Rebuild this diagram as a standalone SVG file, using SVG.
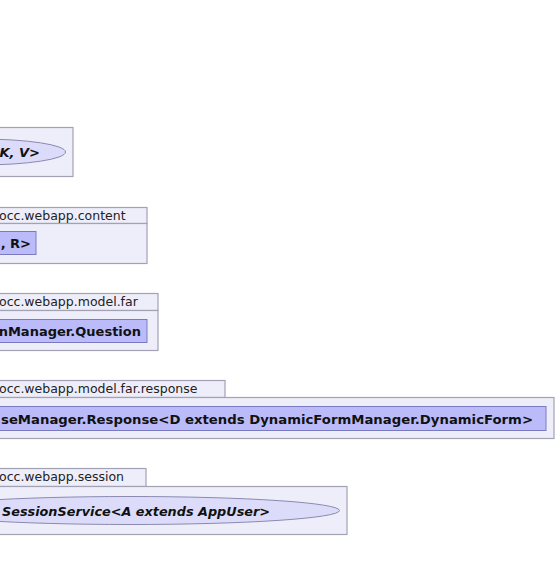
<svg xmlns="http://www.w3.org/2000/svg" width="557" height="580" viewBox="0 0 557 580">
<style>
.pkg{fill:#eeeefa;stroke:#a2a2b4;stroke-width:1.2}
.cls{fill:#bbbbfa;stroke:#7a7ac0;stroke-width:1}
.ell{fill:#dcdcfa;stroke:#8a8ab0;stroke-width:1}
.pl{font-family:"DejaVu Sans",sans-serif;font-size:12.5px;fill:#222}
.cl{font-family:"DejaVu Sans",sans-serif;font-size:13px;font-weight:bold;fill:#111}
.el{font-family:"DejaVu Sans",sans-serif;font-size:13px;font-weight:bold;font-style:italic;fill:#111}
</style>
<rect width="557" height="580" fill="#ffffff"/>
<g id="pkg-map">
<rect class="pkg" x="-10" y="127.5" width="83" height="49"/>
<ellipse class="ell" cx="-20" cy="152" rx="85.5" ry="13"/>
<text class="el" x="40" y="157" text-anchor="end">K, V&gt;</text>
</g>
<g id="pkg-content">
<rect class="pkg" x="-10" y="207.5" width="157" height="16"/>
<rect class="pkg" x="-10" y="223.5" width="157" height="40"/>
<text class="pl" x="-1" y="220">occ.webapp.content</text>
<rect class="cls" x="-10" y="231.5" width="46" height="23"/>
<text class="cl" x="31" y="248" text-anchor="end">, R&gt;</text>
</g>
<g id="pkg-far">
<rect class="pkg" x="-10" y="293.5" width="168" height="17"/>
<rect class="pkg" x="-10" y="310.5" width="168" height="40"/>
<text class="pl" x="-1" y="306">occ.webapp.model.far</text>
<rect class="cls" x="-10" y="319.5" width="157" height="23"/>
<text class="cl" x="141" y="336" text-anchor="end">nManager.Question</text>
</g>
<g id="pkg-response">
<rect class="pkg" x="-10" y="380.5" width="235" height="17"/>
<rect class="pkg" x="-10" y="397.5" width="564" height="41"/>
<text class="pl" x="-1" y="393">occ.webapp.model.far.response</text>
<rect class="cls" x="-10" y="406.5" width="556" height="24"/>
<text class="cl" x="1" y="423.5" textLength="532" lengthAdjust="spacingAndGlyphs">seManager.Response&lt;D extends DynamicFormManager.DynamicForm&gt;</text>
</g>
<g id="pkg-session">
<rect class="pkg" x="-10" y="468.5" width="156" height="18"/>
<rect class="pkg" x="-10" y="486.5" width="357" height="48"/>
<text class="pl" x="-1" y="481">occ.webapp.session</text>
<ellipse class="ell" cx="130" cy="510.5" rx="209.5" ry="14"/>
<text class="el" x="2" y="515.5" textLength="268" lengthAdjust="spacingAndGlyphs">SessionService&lt;A extends AppUser&gt;</text>
</g>
<g id="connectors"/>
</svg>
